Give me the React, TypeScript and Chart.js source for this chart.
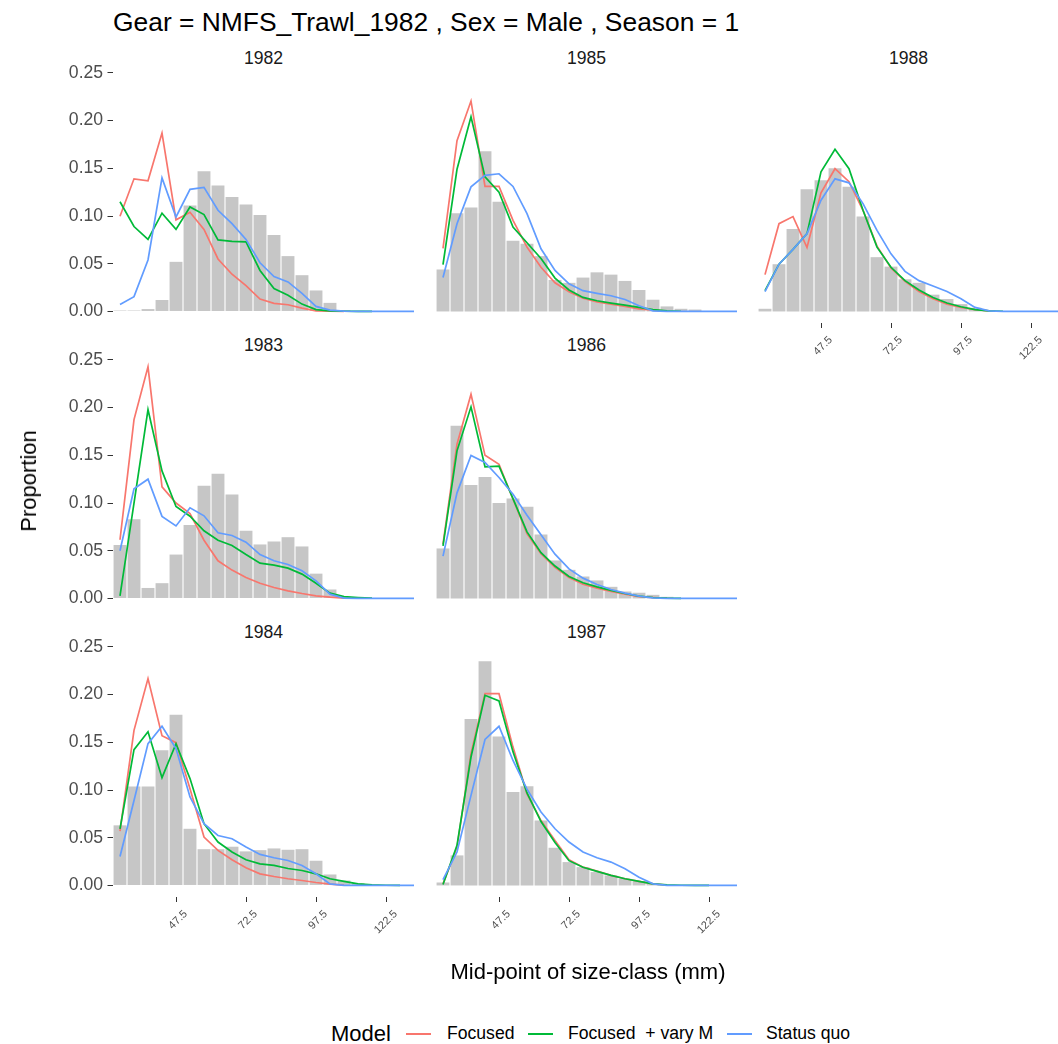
import React, { useEffect, useRef } from "react";
import { Chart, registerables } from "chart.js";

Chart.register(...registerables);

const FONT = "'Liberation Sans', Arial, Helvetica, sans-serif";
Chart.defaults.font.family = FONT;

// ---------- data ----------
const sizeClasses = [27.5, 32.5, 37.5, 42.5, 47.5, 52.5, 57.5, 62.5, 67.5, 72.5, 77.5, 82.5, 87.5, 92.5, 97.5, 102.5, 107.5, 112.5, 117.5, 122.5, 127.5, 132.5];
const xTickValues = [47.5, 72.5, 97.5, 122.5];
const yTickValues = [0, 0.05, 0.1, 0.15, 0.2, 0.25];
const modelNames = ["Focused", "Focused  + vary M", "Status quo"];

const obs1982 = [0.001, 0.001, 0.0025, 0.012, 0.052, 0.111, 0.147, 0.132, 0.12, 0.112, 0.101, 0.08, 0.058, 0.038, 0.022, 0.009, 0.0015, 0.0007, 0.0003, 0, 0, 0];
const focused1982 = [0.0997, 0.139, 0.137, 0.187, 0.096, 0.104, 0.086, 0.055, 0.039, 0.027, 0.013, 0.0085, 0.007, 0.0035, 0.0007, 0.0002, 0, null, null, null, null, null];
const varyM1982 = [0.115, 0.089, 0.0755, 0.103, 0.086, 0.1095, 0.1015, 0.075, 0.0734, 0.073, 0.043, 0.024, 0.017, 0.0077, 0.002, 0.0007, 0.0002, 0, 0, null, null, null];
const statusQuo1982 = [0.0074, 0.0155, 0.054, 0.14, 0.099, 0.128, 0.13, 0.106, 0.092, 0.0755, 0.051, 0.0365, 0.031, 0.019, 0.0053, 0.0014, 0.0004, 0, 0, 0, 0, 0];

const obs1983 = [0.056, 0.083, 0.011, 0.016, 0.046, 0.077, 0.118, 0.1306, 0.109, 0.071, 0.0566, 0.0597, 0.0642, 0.0545, 0.026, 0.0094, 0.0017, 0.0005, 0, 0, 0, 0];
const focused1983 = [0.0615, 0.1875, 0.2427, 0.117, 0.1, 0.089, 0.061, 0.0395, 0.0297, 0.022, 0.016, 0.0115, 0.008, 0.0052, 0.0028, 0.0014, 0.0004, null, null, null, null, null];
const varyM1983 = [0.0028, 0.1, 0.198, 0.1337, 0.0964, 0.0862, 0.0709, 0.061, 0.0555, 0.046, 0.037, 0.035, 0.0318, 0.0255, 0.016, 0.0056, 0.002, 0.001, 0.0003, null, null, null];
const statusQuo1983 = [0.05, 0.115, 0.125, 0.086, 0.076, 0.095, 0.0866, 0.0688, 0.066, 0.059, 0.046, 0.0395, 0.0356, 0.029, 0.0185, 0.0045, 0.0003, 0, 0, 0, 0, 0];

const obs1984 = [0.063, 0.1038, 0.1038, 0.1416, 0.179, 0.0594, 0.038, 0.038, 0.0406, 0.0357, 0.037, 0.0388, 0.0374, 0.038, 0.0259, 0.0115, 0.0052, 0.0024, 0.001, 0, 0, 0];
const focused1984 = [0.057, 0.1626, 0.2168, 0.157, 0.1497, 0.1014, 0.0507, 0.0367, 0.0269, 0.0185, 0.0122, 0.0094, 0.007, 0.0052, 0.0031, 0.0014, 0.0004, null, null, null, null, null];
const varyM1984 = [0.0594, 0.1423, 0.161, 0.113, 0.1486, 0.112, 0.0647, 0.0455, 0.035, 0.0269, 0.0227, 0.021, 0.0178, 0.0157, 0.0122, 0.007, 0.0042, 0.0017, 0.0007, 0.0002, 0, null];
const statusQuo1984 = [0.0304, 0.089, 0.1486, 0.1668, 0.1434, 0.0927, 0.0647, 0.0524, 0.049, 0.0402, 0.0325, 0.029, 0.0262, 0.021, 0.0122, 0.0017, 0, 0, 0, 0, 0, 0];

const obs1985 = [0.044, 0.103, 0.109, 0.168, 0.115, 0.074, 0.071, 0.058, 0.033, 0.03, 0.0355, 0.041, 0.0386, 0.032, 0.0225, 0.0123, 0.0053, 0.0028, 0.002, 0, 0, 0];
const focused1985 = [0.066, 0.179, 0.2205, 0.131, 0.131, 0.0955, 0.0674, 0.0463, 0.03, 0.0207, 0.014, 0.01, 0.0077, 0.0053, 0.0028, 0.0014, 0.0004, null, null, null, null, null];
const varyM1985 = [0.049, 0.149, 0.204, 0.141, 0.125, 0.0885, 0.072, 0.0555, 0.035, 0.0225, 0.0147, 0.0112, 0.0088, 0.0067, 0.0042, 0.002, 0.0007, 0.0002, null, null, null, null];
const statusQuo1985 = [0.0355, 0.092, 0.1306, 0.1426, 0.1443, 0.131, 0.1025, 0.0657, 0.043, 0.029, 0.0218, 0.019, 0.0165, 0.0126, 0.006, 0.0007, 0, 0, 0, 0, 0, 0];

const obs1986 = [0.0524, 0.181, 0.119, 0.1274, 0.1, 0.1047, 0.096, 0.067, 0.0398, 0.03, 0.023, 0.0189, 0.0122, 0.0073, 0.006, 0.0038, 0.0017, 0, 0, 0, 0, 0];
const focused1986 = [0.057, 0.1617, 0.214, 0.15, 0.1407, 0.104, 0.068, 0.047, 0.0325, 0.022, 0.015, 0.0108, 0.0073, 0.0045, 0.002, 0.001, 0.0003, null, null, null, null, null];
const varyM1986 = [0.055, 0.1547, 0.2008, 0.138, 0.1386, 0.1047, 0.0698, 0.048, 0.034, 0.023, 0.0164, 0.0122, 0.0084, 0.0052, 0.0024, 0.001, 0.0003, 0.0001, null, null, null, null];
const statusQuo1986 = [0.0443, 0.1107, 0.1498, 0.1425, 0.1268, 0.1093, 0.0873, 0.0667, 0.0464, 0.031, 0.0213, 0.0147, 0.0094, 0.0056, 0.0024, 0.0007, 0, 0, 0, 0, 0, 0];

const obs1987 = [0.0031, 0.0315, 0.1745, 0.235, 0.156, 0.098, 0.104, 0.068, 0.0395, 0.0245, 0.0192, 0.014, 0.0105, 0.007, 0.0045, 0.0017, 0, 0, 0, 0, 0, 0];
const focused1987 = [0.0017, 0.04, 0.138, 0.201, 0.201, 0.145, 0.096, 0.068, 0.047, 0.027, 0.0192, 0.015, 0.0105, 0.007, 0.0042, 0.0017, 0.0005, null, null, null, null, null];
const varyM1987 = [0.001, 0.042, 0.1346, 0.1993, 0.1934, 0.14, 0.097, 0.067, 0.045, 0.026, 0.019, 0.0147, 0.0105, 0.007, 0.0042, 0.0017, 0.0007, 0.0002, 0.0001, 0, null, null];
const statusQuo1987 = [0.006, 0.035, 0.0944, 0.153, 0.1668, 0.131, 0.101, 0.077, 0.0594, 0.0455, 0.035, 0.029, 0.0245, 0.0175, 0.0087, 0.0017, 0, 0, 0, 0, 0, 0];

const obs1988 = [0.0028, 0.0495, 0.0864, 0.128, 0.1376, 0.15, 0.1306, 0.0994, 0.0569, 0.047, 0.0337, 0.03, 0.0176, 0.013, 0.0077, 0.0039, 0.0014, 0, 0, 0, 0, 0];
const focused1988 = [0.0386, 0.092, 0.0994, 0.067, 0.1243, 0.1496, 0.136, 0.106, 0.0685, 0.0456, 0.0316, 0.021, 0.0133, 0.0077, 0.0042, 0.002, 0.0007, null, null, null, null, null];
const varyM1988 = [0.0218, 0.0495, 0.065, 0.0815, 0.1464, 0.17, 0.1496, 0.106, 0.0674, 0.0463, 0.0323, 0.0225, 0.0147, 0.0088, 0.0049, 0.002, 0.0007, 0.0002, null, null, null, null];
const statusQuo1988 = [0.0207, 0.0495, 0.065, 0.0815, 0.1166, 0.139, 0.1348, 0.113, 0.085, 0.0604, 0.042, 0.0323, 0.0267, 0.021, 0.0133, 0.0042, 0.0007, 0, 0, 0, 0, 0];

// ---------- layout / style ----------
const COL_LEFT = [113, 436, 758];
const ROW_TOP = [69, 356, 643];
const PANEL_W = 301;
const PANEL_H = 254;
const Y_MIN = -0.0121;
const Y_MAX = 0.2541;
const COLORS = ["#F8766D", "#00BA38", "#619CFF"];
const BAR_COLOR = "#C6C6C6";

type PanelDef = {
  year: string; col: number; row: number; showX: boolean;
  obs: number[]; focused: (number | null)[]; varyM: (number | null)[]; statusQuo: (number | null)[];
};

const panels: PanelDef[] = [
  { year: "1982", col: 0, row: 0, showX: false, obs: obs1982, focused: focused1982, varyM: varyM1982, statusQuo: statusQuo1982 },
  { year: "1985", col: 1, row: 0, showX: false, obs: obs1985, focused: focused1985, varyM: varyM1985, statusQuo: statusQuo1985 },
  { year: "1988", col: 2, row: 0, showX: true, obs: obs1988, focused: focused1988, varyM: varyM1988, statusQuo: statusQuo1988 },
  { year: "1983", col: 0, row: 1, showX: false, obs: obs1983, focused: focused1983, varyM: varyM1983, statusQuo: statusQuo1983 },
  { year: "1986", col: 1, row: 1, showX: false, obs: obs1986, focused: focused1986, varyM: varyM1986, statusQuo: statusQuo1986 },
  { year: "1984", col: 0, row: 2, showX: true, obs: obs1984, focused: focused1984, varyM: varyM1984, statusQuo: statusQuo1984 },
  { year: "1987", col: 1, row: 2, showX: true, obs: obs1987, focused: focused1987, varyM: varyM1987, statusQuo: statusQuo1987 },
];

const toXY = (vals: (number | null)[]) => vals.map((v, i) => ({ x: sizeClasses[i], y: v }));

function Panel({ p }: { p: PanelDef }) {
  const ref = useRef<HTMLCanvasElement>(null);
  const showY = p.col === 0;
  const padL = showY ? 113 : 15;
  const padT = 20;
  const padR = 10;
  const padB = p.showX ? 50 : 20;
  const w = PANEL_W + padL + padR;
  const h = PANEL_H + padT + padB;

  useEffect(() => {
    const lineDs = (label: string, vals: (number | null)[], color: string, order: number) => ({
      type: "line" as const,
      label,
      data: toXY(vals),
      borderColor: color,
      backgroundColor: color,
      borderWidth: 1.7,
      pointRadius: 0,
      tension: 0,
      spanGaps: false,
      order,
    });
    const chart = new Chart(ref.current as HTMLCanvasElement, {
      type: "bar",
      data: {
        datasets: [
          lineDs(modelNames[2], p.statusQuo, COLORS[2], 1),
          lineDs(modelNames[1], p.varyM, COLORS[1], 2),
          lineDs(modelNames[0], p.focused, COLORS[0], 3),
          {
            type: "bar" as const,
            label: "Observed",
            data: toXY(p.obs),
            backgroundColor: BAR_COLOR,
            borderWidth: 0,
            barPercentage: 0.92,
            categoryPercentage: 1,
            order: 4,
          },
        ] as any,
      },
      options: {
        responsive: false,
        animation: false,
        events: [],
        layout: { padding: { left: showY ? 10 : padL, top: padT, right: padR, bottom: p.showX ? 5 : padB } },
        plugins: { legend: { display: false }, tooltip: { enabled: false }, title: { display: false } },
        scales: {
          x: {
            type: "linear",
            min: 25,
            max: 132.5,
            bounds: "data",
            offset: false,
            display: p.showX,
            grid: { offset: false, drawOnChartArea: false, drawTicks: true, tickLength: 5, color: "#333333", lineWidth: 1 },
            border: { display: false },
            ticks: {
              autoSkip: false,
              minRotation: 45,
              maxRotation: 45,
              labelOffset: 9.6,
              padding: 5.7,
              color: "#4D4D4D",
              font: { size: 11, family: FONT },
              callback: (v: any) => Number(v).toFixed(1),
            },
            afterBuildTicks: (s: any) => { s.ticks = xTickValues.map((v) => ({ value: v })); },
            afterFit: (s: any) => { s.height = p.showX ? 45 : 0; },
          },
          y: {
            type: "linear",
            min: Y_MIN,
            max: Y_MAX,
            bounds: "data",
            display: showY,
            grid: { drawOnChartArea: false, drawTicks: true, tickLength: 5.5, color: "#333333", lineWidth: 1 },
            border: { display: false },
            ticks: {
              padding: 4.4,
              color: "#4D4D4D",
              font: { size: 17.6, family: FONT },
              callback: (v: any) => Number(v).toFixed(2),
            },
            afterBuildTicks: (s: any) => { s.ticks = yTickValues.map((v) => ({ value: v })); },
            afterFit: (s: any) => { s.width = showY ? 103 : 0; },
          },
        },
      } as any,
    });
    return () => chart.destroy();
  }, []);

  return (
    <canvas
      ref={ref}
      width={w}
      height={h}
      style={{ position: "absolute", left: COL_LEFT[p.col] - padL, top: ROW_TOP[p.row] - padT, width: w, height: h }}
    />
  );
}

function Txt(props: { x: number; y: number; size: number; text: string; color?: string; anchor?: "start" | "middle"; rotate?: boolean }) {
  const { x, y, size, text, color = "#000000", anchor = "middle", rotate = false } = props;
  const tx = anchor === "middle" ? "-50%" : "0";
  return (
    <div
      style={{
        position: "absolute",
        left: x,
        top: y,
        transform: `translate(${tx}, -50%)${rotate ? " rotate(-90deg)" : ""}`,
        transformOrigin: rotate ? "50% 50%" : undefined,
        fontFamily: FONT,
        fontSize: size,
        lineHeight: 1,
        color,
        whiteSpace: "pre",
      }}
    >
      {text}
    </div>
  );
}

export default function App() {
  const legendY = 1034;
  const legendItems = [
    { key: 406, label: 447, name: modelNames[0], color: COLORS[0] },
    { key: 528, label: 568, name: modelNames[1], color: COLORS[1] },
    { key: 727, label: 766, name: modelNames[2], color: COLORS[2] },
  ];
  return (
    <div style={{ position: "absolute", left: 0, top: 0, width: 1058, height: 1044, overflow: "hidden", background: "#FFFFFF" }}>
      <Txt x={113} y={22} size={26.4} text="Gear = NMFS_Trawl_1982 , Sex = Male , Season = 1" anchor="start" />
      {panels.map((p) => (
        <Txt key={"s" + p.year} x={COL_LEFT[p.col] + PANEL_W / 2} y={ROW_TOP[p.row] - 10.5} size={17.6} color="#1A1A1A" text={p.year} />
      ))}
      {panels.map((p) => (
        <Panel key={p.year} p={p} />
      ))}
      <Txt x={28.5} y={481} size={22} text="Proportion" rotate />
      <Txt x={588} y={972} size={22} text="Mid-point of size-class (mm)" />
      <Txt x={331} y={legendY} size={22} text="Model" anchor="start" />
      {legendItems.map((it) => (
        <React.Fragment key={it.name}>
          <div style={{ position: "absolute", left: it.key, top: legendY - 1, width: 25, height: 2, background: it.color }} />
          <Txt x={it.label} y={legendY} size={17.6} text={it.name} anchor="start" />
        </React.Fragment>
      ))}
    </div>
  );
}
